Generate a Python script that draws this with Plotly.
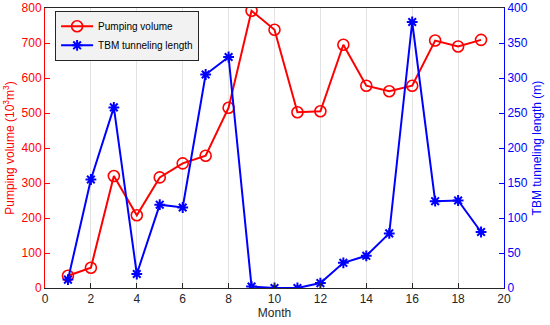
import plotly.graph_objects as go

months = list(range(1, 20))
pumping_volume = [35, 58, 320, 208, 316, 356, 378, 515, 792, 738, 502, 505, 695, 578, 562, 578, 707, 690, 709]
tbm_length = [12, 155, 258, 20, 119, 115, 305, 330, 2, 0, 0, 7, 36, 46, 78, 380, 124, 125, 80]

x_ticks = list(range(0, 21, 2))
left_ticks = list(range(0, 801, 100))
right_ticks = list(range(0, 401, 50))

RED = "#ff0000"
BLUE = "#0000ff"
FONT = "Liberation Sans, Arial, sans-serif"

fig = go.Figure()
fig.add_trace(go.Scatter(
    x=months, y=pumping_volume, name="Pumping volume", mode="lines+markers",
    line=dict(color=RED, width=2),
    marker=dict(symbol="circle-open", size=11, color=RED, line=dict(width=1.6, color=RED)),
    yaxis="y"))
fig.add_trace(go.Scatter(
    x=months, y=tbm_length, name="TBM tunneling length", mode="lines+markers",
    line=dict(color=BLUE, width=2),
    marker=dict(symbol="asterisk-open", size=9, color=BLUE, line=dict(width=2, color=BLUE)),
    yaxis="y2"))

fig.update_layout(
    width=550, height=325,
    margin=dict(l=45, r=46, t=8, b=37),
    paper_bgcolor="white", plot_bgcolor="white",
    font=dict(family=FONT, size=12, color="#262626"),
    showlegend=True,
    legend=dict(x=0.022, y=0.99, xanchor="left", yanchor="top",
                bgcolor="#f2f2f2", bordercolor="#262626", borderwidth=1,
                font=dict(size=10, color="#000000"), tracegroupgap=0,
                itemwidth=32),
    xaxis=dict(range=[0, 20], tickvals=x_ticks, showgrid=True, gridcolor="#e3e3e3",
               gridwidth=1, zeroline=False, showline=True, linecolor="#262626",
               linewidth=1, mirror=True, ticks="inside", ticklen=5, tickcolor="#262626",
               tickfont=dict(size=12, color="#262626"), automargin=False,
               title=dict(text="Month", font=dict(size=12, color="#262626"), standoff=3)),
    yaxis=dict(range=[0, 800], tickvals=left_ticks, showgrid=False, zeroline=False,
               showline=True, linecolor=RED, linewidth=1, ticks="inside", ticklen=5,
               tickcolor=RED, tickfont=dict(size=12, color=RED), automargin=False,
               title=dict(text="Pumping volume (10<sup>3</sup>m<sup>3</sup>)",
                          font=dict(size=12, color=RED), standoff=4)),
    yaxis2=dict(range=[0, 400], tickvals=right_ticks, overlaying="y", side="right",
                showgrid=False, zeroline=False, showline=True, linecolor=BLUE,
                linewidth=1, ticks="inside", ticklen=5, tickcolor=BLUE,
                tickfont=dict(size=12, color=BLUE), automargin=False,
                title=dict(text="TBM tunneling length (m)",
                           font=dict(size=12, color=BLUE), standoff=5)),
)

fig.write_html("out.html", config={"displayModeBar": False},
               post_script="document.body.style.margin='0';")
